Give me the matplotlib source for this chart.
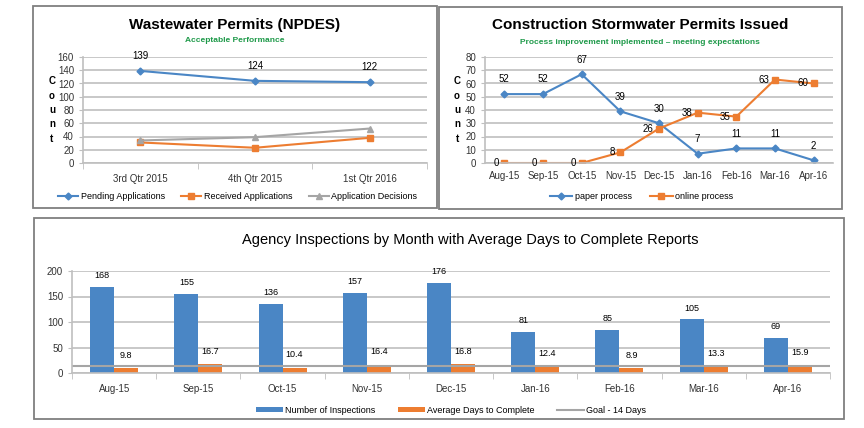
import matplotlib
matplotlib.use("Agg")
import matplotlib.pyplot as plt
import numpy as np
from matplotlib.patches import Rectangle

plt.rcParams['font.family'] = ['Liberation Sans', 'DejaVu Sans']

# Wastewater permits (NPDES)
quarters = ["3rd Qtr 2015", "4th Qtr 2015", "1st Qtr 2016"]
pending = [139, 124, 122]
received = [31, 23, 38]
decisions = [34, 39, 52]

# Construction stormwater permits
months = ["Aug-15", "Sep-15", "Oct-15", "Nov-15", "Dec-15",
          "Jan-16", "Feb-16", "Mar-16", "Apr-16"]
paper = [52, 52, 67, 39, 30, 7, 11, 11, 2]
online = [0, 0, 0, 8, 26, 38, 35, 63, 60]

# Agency inspections
inspections = [168, 155, 136, 157, 176, 81, 85, 105, 69]
avg_days = [9.8, 16.7, 10.4, 16.4, 16.8, 12.4, 8.9, 13.3, 15.9]
goal_days = 14

BLUE = "#4a86c5"
ORANGE = "#ed7d31"
GRAY = "#a5a5a5"
GRID = "#bfbfbf"
GREEN = "#1f9a4a"

W, H = 864, 428
fig = plt.figure(figsize=(W / 100, H / 100), dpi=100)
fig.patch.set_facecolor("white")


def fx(px):
    return px / W


def fy(py):
    return 1 - py / H


def panel_box(x0, y0, x1, y1):
    fig.add_artist(Rectangle((fx(x0), fy(y1)), fx(x1 - x0), (y1 - y0) / H,
                             transform=fig.transFigure, fill=False,
                             edgecolor="#7f7f7f", linewidth=1.3))


def style_axes(ax):
    for s in ["top", "right"]:
        ax.spines[s].set_visible(False)
    for s in ["left", "bottom"]:
        ax.spines[s].set_color(GRID)
        ax.spines[s].set_linewidth(1.2)
    ax.yaxis.grid(True, color=GRID, linewidth=1.2)
    ax.set_axisbelow(True)
    ax.tick_params(axis="both", labelsize=7, colors="#333333", length=3,
                   color=GRID)


def count_label(x, y):
    fig.text(fx(x), fy(y), "C\no\nu\nn\nt", ha="center", va="center",
             fontsize=7, fontweight="bold", linespacing=1.55)


# ---- panel 1 ----
panel_box(33, 6, 437, 208)
ax1 = fig.add_axes([fx(83), fy(163), fx(427 - 83), (163 - 57) / H])
style_axes(ax1)
x = np.arange(len(quarters))
ax1.plot(x, pending, color=BLUE, marker="D", markersize=3.5, linewidth=1.5,
         label="Pending Applications")
ax1.plot(x, received, color=ORANGE, marker="s", markersize=4, linewidth=1.5,
         label="Received Applications")
ax1.plot(x, decisions, color=GRAY, marker="^", markersize=4.5, linewidth=1.5,
         label="Application Decisions")
for i, v in enumerate(pending):
    ax1.annotate(str(v), (i, v), xytext=(0, 7), textcoords="offset points",
                 ha="center", va="bottom", fontsize=7)
ax1.set_xlim(-0.5, 2.5)
ax1.set_ylim(0, 160)
ax1.set_yticks(range(0, 161, 20))
ax1.set_xticks(x)
ax1.set_xticklabels(quarters)
ax1.set_xticks([-0.5, 0.5, 1.5, 2.5], minor=True)
ax1.tick_params(axis="x", which="major", length=0, pad=8)
ax1.tick_params(axis="x", which="minor", length=4, color=GRID)
fig.text(fx(235), fy(25), "Wastewater Permits (NPDES)", ha="center",
         va="center", fontsize=11, fontweight="bold")
fig.text(fx(235), fy(41), "Acceptable Performance", ha="center",
         va="center", fontsize=6, fontweight="bold", color=GREEN)
count_label(52, 110)
ax1.legend(loc="upper center", bbox_to_anchor=(0.45, -0.2), ncol=3,
           frameon=False, fontsize=6.5, handlelength=2.2, columnspacing=1.8,
           handletextpad=0.3)

# ---- panel 2 ----
panel_box(439, 7, 842, 209)
ax2 = fig.add_axes([fx(485), fy(163), fx(833 - 485), (163 - 57) / H])
style_axes(ax2)
xm = np.arange(len(months))
ax2.plot(xm, paper, color=BLUE, marker="D", markersize=3.5, linewidth=1.5,
         label="paper process")
ax2.plot(xm, online, color=ORANGE, marker="s", markersize=4.5, linewidth=1.5,
         label="online process")
for i, v in enumerate(paper):
    ax2.annotate(str(v), (i, v), xytext=(0, 7), textcoords="offset points",
                 ha="center", va="bottom", fontsize=7)
for i, v in enumerate(online):
    ax2.annotate(str(v), (i, v), xytext=(-4, 0), textcoords="offset points",
                 ha="right", va="center", fontsize=7)
ax2.set_xlim(-0.5, len(months) - 0.5)
ax2.set_ylim(0, 80)
ax2.set_yticks(range(0, 81, 10))
ax2.set_xticks(xm)
ax2.set_xticklabels(months)
ax2.tick_params(axis="x", length=0, pad=6)
fig.text(fx(640), fy(25), "Construction Stormwater Permits Issued",
         ha="center", va="center", fontsize=11, fontweight="bold")
fig.text(fx(640), fy(42),
         "Process improvement implemented \u2013 meeting expectations",
         ha="center", va="center", fontsize=6, fontweight="bold", color=GREEN)
count_label(457, 110)
ax2.legend(loc="upper center", bbox_to_anchor=(0.45, -0.2), ncol=2,
           frameon=False, fontsize=6.5, handlelength=2.5, columnspacing=2,
           handletextpad=0.3)

# ---- panel 3 ----
panel_box(34, 218, 844, 419)
ax3 = fig.add_axes([fx(72), fy(373), fx(830 - 72), (373 - 271) / H])
style_axes(ax3)
bw = 0.285
xb = np.arange(len(months))
b1 = ax3.bar(xb - bw / 2, inspections, bw, color=BLUE,
             label="Number of Inspections")
b2 = ax3.bar(xb + bw / 2, avg_days, bw, color=ORANGE,
             label="Average Days to Complete")
l1, = ax3.plot([-0.5, len(months) - 0.5], [goal_days, goal_days], color=GRAY,
               linewidth=1.5, label="Goal - 14 Days")
for i, v in enumerate(inspections):
    ax3.annotate(str(v), (i - bw / 2, v), xytext=(0, 5),
                 textcoords="offset points", ha="center", va="bottom",
                 fontsize=6.5)
for i, v in enumerate(avg_days):
    ax3.annotate(f"{v}", (i + bw / 2, v), xytext=(0, 6),
                 textcoords="offset points", ha="center", va="bottom",
                 fontsize=6.5)
ax3.set_xlim(-0.5, len(months) - 0.5)
ax3.set_ylim(0, 200)
ax3.set_yticks(range(0, 201, 50))
ax3.set_xticks(xb)
ax3.set_xticklabels(months)
ax3.set_xticks(np.arange(-0.5, len(months)), minor=True)
ax3.tick_params(axis="x", which="major", length=0, pad=8)
ax3.tick_params(axis="x", which="minor", length=4, color=GRID)
fig.text(fx(470), fy(240),
         "Agency Inspections by Month with Average Days to Complete Reports",
         ha="center", va="center", fontsize=10.5)
ax3.legend(handles=[b1, b2, l1], loc="upper center",
           bbox_to_anchor=(0.5, -0.24), ncol=3, frameon=False, fontsize=6.5,
           handlelength=3, handleheight=0.5, columnspacing=2.5,
           handletextpad=0.2)

fig.savefig("out.png", dpi=100, facecolor="white")
